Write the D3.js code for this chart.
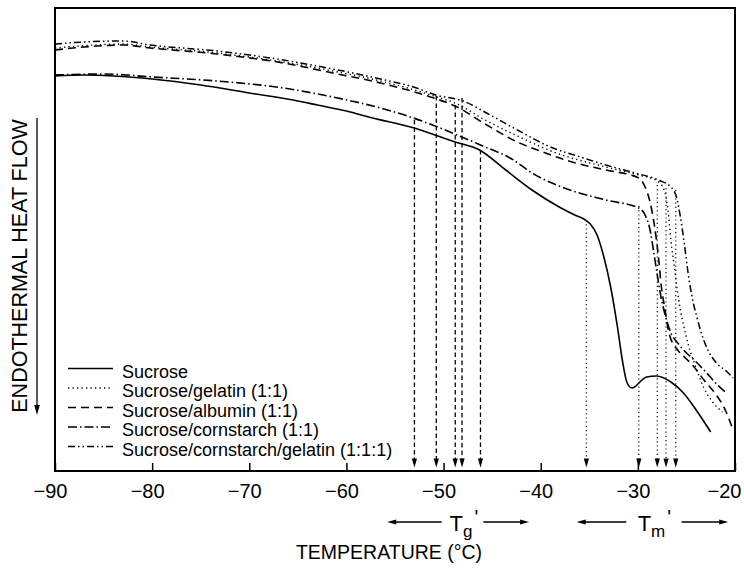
<!DOCTYPE html>
<html>
<head>
<meta charset="utf-8">
<title>DSC thermograms of sucrose mixtures</title>
<script src="https://d3js.org/d3.v7.min.js"></script>
<style>
    body { margin: 0; background: #fff; }
    svg { display: block; font-family: "Liberation Sans", Arial, sans-serif; }
    .curve { fill: none; stroke: #000; }
    .axis path { display: none; }
    .axis line { stroke: #000; stroke-width: 1.5; }
    .tick text { font-size: 20px; fill: #000; }
    .legend text { font-size: 18px; }
</style>
</head>
<body>
<svg width="744" height="568"></svg>
<script>
    // temperatures (°C) and heat flow (arbitrary units, endotherm down)
    const sucroseTemp = [-90, -87, -84, -80, -75, -70, -65, -63, -60, -57.3, -53.4, -48.8, -46.3, -43.6, -40.9, -38.1, -36.5, -35.4, -34.9, -34.2, -33.5, -32.8, -32.1, -31.6, -31.1, -30.6, -30.2, -29.9, -29.1, -28.1, -26.6, -25.3, -24.0, -22.5];
    const sucroseFlow = [79.0, 79.2, 79.0, 78.4, 77.2, 75.6, 74.0, 73.2, 72.0, 70.6, 68.8, 65.8, 64.2, 60.2, 56.2, 52.8, 51.2, 50.2, 49.4, 47.2, 42.8, 36.8, 28.8, 22.2, 17.6, 16.6, 17.0, 17.6, 18.8, 19.0, 17.8, 15.6, 12.2, 7.8];

    const gelatinTemp = [-90, -86, -83, -80.2, -73.3, -66.5, -61.4, -56.5, -53.7, -51.0, -48.6, -45.9, -42.4, -38.4, -33.3, -29.9, -28.0, -27.3, -26.9, -26.6, -26.2, -25.8, -25.3, -24.8, -24.0, -23.2, -22.3, -21.3];
    const gelatinFlow = [84.6, 85.2, 85.4, 84.8, 83.6, 81.8, 80.0, 78.0, 76.6, 75.0, 73.4, 70.4, 67.0, 63.6, 60.8, 59.2, 58.0, 56.2, 52.2, 46.2, 40.2, 34.2, 29.2, 25.2, 20.6, 16.6, 13.8, 11.8];

    const albuminTemp = [-90, -87, -83, -80.2, -73.3, -66.5, -61.4, -56.5, -53.7, -51.0, -48.6, -45.9, -42.4, -39.5, -36.4, -33.3, -29.9, -29.3, -28.8, -28.3, -27.9, -27.6, -27.2, -26.8, -25.9, -25.1, -24.3, -23.2, -22.0, -21.0, -20.2];
    const albuminFlow = [84.2, 84.8, 85.2, 84.6, 83.4, 81.6, 79.6, 77.6, 76.2, 74.6, 72.8, 69.6, 65.8, 63.6, 61.6, 60.2, 58.6, 57.0, 54.2, 49.2, 43.2, 37.2, 32.2, 27.6, 24.2, 22.6, 21.0, 18.2, 15.4, 12.2, 8.2];

    const cornstarchTemp = [-90, -85, -80, -73.3, -66.5, -61.4, -56.5, -53.1, -50.6, -48.6, -46.2, -42.8, -40.9, -38.1, -33.3, -29.9, -29.2, -28.7, -28.4, -28.0, -27.6, -27.1, -26.6, -25.9, -25.1, -24.2, -23.0, -21.8, -21.0];
    const cornstarchFlow = [79.2, 79.4, 78.8, 78.0, 76.6, 74.8, 72.6, 70.6, 68.8, 67.2, 65.2, 62.2, 59.6, 57.0, 54.2, 52.6, 51.0, 47.8, 44.2, 39.2, 34.6, 30.6, 27.6, 25.6, 23.8, 22.2, 19.8, 17.2, 15.8];

    const mixTemp = [-90, -87, -83, -80.2, -73.3, -66.5, -61.4, -56.5, -53.1, -50.8, -48.0, -45.2, -42.4, -39.0, -35.9, -33.3, -30.3, -27.9, -26.6, -26.0, -25.6, -25.2, -24.8, -24.4, -23.9, -23.5, -22.8, -22.0, -20.8, -20.2];
    const mixFlow = [85.4, 85.8, 86.0, 85.2, 84.0, 82.2, 80.4, 78.4, 76.8, 75.2, 74.0, 71.2, 68.2, 64.8, 62.8, 61.2, 59.6, 58.2, 56.8, 54.6, 50.6, 45.2, 39.2, 34.6, 30.6, 27.8, 24.2, 21.8, 19.8, 18.6];

    const seriesNames = ["Sucrose", "Sucrose/gelatin (1:1)", "Sucrose/albumin (1:1)", "Sucrose/cornstarch (1:1)", "Sucrose/cornstarch/gelatin (1:1:1)"];

    // glass transition (Tg') and melting onset (Tm') markers: temperature and flow where the arrow starts
    const tgTemp = [-53.0, -50.75, -48.8, -48.1, -46.2];
    const tgFlow = [70.2, 75.0, 73.2, 74.6, 64.2];
    const tmTemp = [-35.3, -29.9, -28.0, -27.1, -26.1];
    const tmFlow = [50.2, 53.0, 57.2, 56.6, 56.2];
    const arrowTipFlow = 0.7;

    const xTicks = [-90, -80, -70, -60, -50, -40, -30, -20];

    const margin = { top: 8, right: 9, bottom: 97, left: 55 };
    const width = 744 - margin.left - margin.right;
    const height = 568 - margin.top - margin.bottom;

    const svg = d3.select("svg");
    const g = svg.append("g")
        .attr("transform", `translate(${margin.left},${margin.top})`);

    const x = d3.scaleLinear().domain([-90, -20]).range([0, width]);
    const y = d3.scaleLinear().domain([0, 92.6]).range([height, 0]);

    const series = [
        { name: seriesNames[0], temp: sucroseTemp, flow: sucroseFlow },
        { name: seriesNames[1], temp: gelatinTemp, flow: gelatinFlow },
        { name: seriesNames[2], temp: albuminTemp, flow: albuminFlow },
        { name: seriesNames[3], temp: cornstarchTemp, flow: cornstarchFlow },
        { name: seriesNames[4], temp: mixTemp, flow: mixFlow }
    ];
    const dashes = ["none", "1.3,3.2", "8,5", "9,3,1.5,3", "7,3,1.5,3,1.5,3"];
    const widths = [1.6, 1.4, 1.6, 1.6, 1.5];

    const line = d3.line()
        .x(d => x(d[0]))
        .y(d => y(d[1]))
        .curve(d3.curveMonotoneX);

    g.selectAll(".curve")
        .data(series)
        .enter().append("path")
        .attr("class", "curve")
        .attr("stroke-width", (d, i) => widths[i])
        .attr("stroke-dasharray", (d, i) => dashes[i])
        .attr("d", d => line(d.temp.map((t, i) => [t, d.flow[i]])));

    // vertical arrows marking Tg' (dashed) and Tm' (dotted)
    function drawMarkers(temps, flows, dash, color) {
        const m = g.append("g");
        temps.forEach((t, i) => {
            const px = x(t);
            const tip = y(arrowTipFlow);
            m.append("line")
                .attr("x1", px).attr("x2", px)
                .attr("y1", y(flows[i])).attr("y2", tip - 8)
                .attr("stroke", color)
                .attr("stroke-width", 1.3)
                .attr("stroke-dasharray", dash);
            m.append("path")
                .attr("d", `M${px - 2.6},${tip - 9}L${px + 2.6},${tip - 9}L${px},${tip}Z`)
                .attr("fill", "#000");
        });
    }
    drawMarkers(tgTemp, tgFlow, "4.5,3", "#000");
    drawMarkers(tmTemp, tmFlow, "1.2,3", "#222");

    // axis with inward ticks
    const xAxis = d3.axisBottom(x)
        .tickValues(xTicks)
        .tickSizeInner(-8)
        .tickSizeOuter(0)
        .tickPadding(13);

    g.append("g")
        .attr("class", "x axis")
        .attr("transform", `translate(0,${height})`)
        .call(xAxis)
        .selectAll("text")
        .attr("dx", (d, i) => i === xTicks.length - 1 ? -11 : -5);

    g.append("rect")
        .attr("width", width)
        .attr("height", height)
        .attr("fill", "none")
        .attr("stroke", "#000")
        .attr("stroke-width", 2);

    // legend
    const legend = g.append("g").attr("class", "legend");
    series.forEach((s, i) => {
        const base = 369.5 + i * 19.5;
        legend.append("line")
            .attr("x1", 13).attr("x2", 58)
            .attr("y1", base - 9).attr("y2", base - 9)
            .attr("stroke", "#000")
            .attr("stroke-width", widths[i])
            .attr("stroke-dasharray", dashes[i]);
        legend.append("text")
            .attr("x", 67)
            .attr("y", base)
            .text(s.name);
    });

    // axis titles
    svg.append("text")
        .attr("x", 389)
        .attr("y", 559)
        .attr("text-anchor", "middle")
        .attr("font-size", 19.5)
        .text("TEMPERATURE (°C)");

    svg.append("text")
        .attr("transform", "translate(27,266) rotate(-90)")
        .attr("text-anchor", "middle")
        .attr("font-size", 21.5)
        .text("ENDOTHERMAL HEAT FLOW");

    svg.append("line")
        .attr("x1", 37).attr("x2", 37)
        .attr("y1", 118).attr("y2", 406)
        .attr("stroke", "#000").attr("stroke-width", 1.3);
    svg.append("path")
        .attr("d", "M34.2,405L39.8,405L37,415Z")
        .attr("fill", "#000");

    // Tg' and Tm' range annotations under the axis
    const ranges = [
        { label: "g", from: [-55.8, -50.2], to: [-45.9, -41.2], center: -47.9 },
        { label: "m", from: [-36.3, -31.2], to: [-25.5, -20.7], center: -28.3 }
    ];
    const ay = 522;
    ranges.forEach(r => {
        svg.append("line")
            .attr("x1", margin.left + x(r.from[0]) + 7).attr("x2", margin.left + x(r.from[1]))
            .attr("y1", ay).attr("y2", ay)
            .attr("stroke", "#000").attr("stroke-width", 1.3);
        svg.append("path")
            .attr("d", `M${margin.left + x(r.from[0])},${ay}L${margin.left + x(r.from[0]) + 9},${ay - 2.6}L${margin.left + x(r.from[0]) + 9},${ay + 2.6}Z`);
        svg.append("line")
            .attr("x1", margin.left + x(r.to[0])).attr("x2", margin.left + x(r.to[1]) - 7)
            .attr("y1", ay).attr("y2", ay)
            .attr("stroke", "#000").attr("stroke-width", 1.3);
        svg.append("path")
            .attr("d", `M${margin.left + x(r.to[1])},${ay}L${margin.left + x(r.to[1]) - 9},${ay - 2.6}L${margin.left + x(r.to[1]) - 9},${ay + 2.6}Z`);
        const t = svg.append("text")
            .attr("x", margin.left + x(r.center))
            .attr("y", 531)
            .attr("text-anchor", "middle")
            .attr("font-size", 22);
        t.append("tspan").text("T");
        t.append("tspan").attr("font-size", 17).attr("dy", 6).text(r.label);
        t.append("tspan").attr("font-size", 20).attr("dy", -13).attr("dx", 2).text("'");
    });
</script>
</body>
</html>
